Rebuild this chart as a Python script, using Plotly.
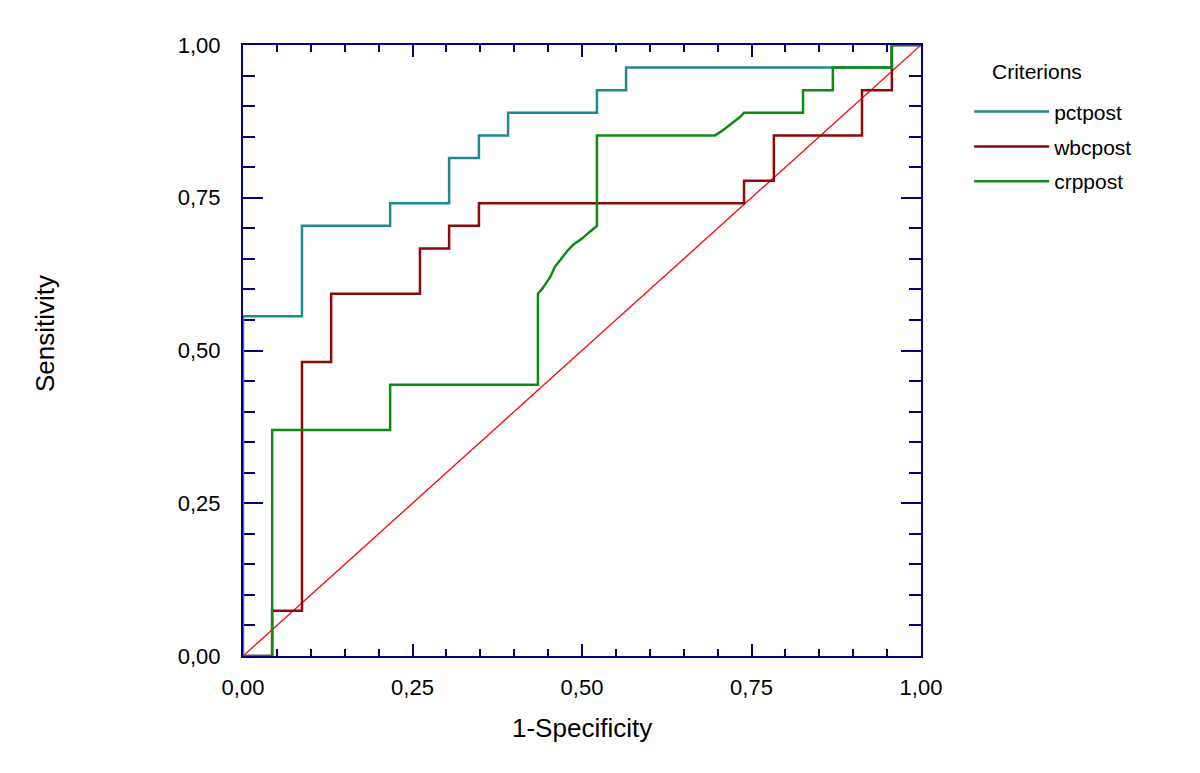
import plotly.graph_objects as go

# ROC data (1-Specificity, Sensitivity)
pct_fpr = [0.0, 0.0, 0.087, 0.217, 0.304, 0.348, 0.391, 0.522, 0.565, 0.957, 1.0]
pct_tpr = [0.0, 0.556, 0.704, 0.741, 0.815, 0.852, 0.889, 0.926, 0.963, 1.0, 1.0]

wbc_fpr = [0.0, 0.043, 0.087, 0.130, 0.261, 0.304, 0.348, 0.739, 0.783, 0.913, 0.957, 1.0]
wbc_tpr = [0.0, 0.074, 0.481, 0.593, 0.667, 0.704, 0.741, 0.778, 0.852, 0.926, 1.0, 1.0]

crp_fpr = [0.0, 0.043, 0.043, 0.217, 0.217, 0.435, 0.435, 0.442, 0.453, 0.460, 0.470,
           0.479, 0.487, 0.501, 0.509, 0.522, 0.522, 0.696, 0.706, 0.723, 0.733,
           0.739, 0.826, 0.826, 0.870, 0.870, 0.957, 0.957, 1.0]
crp_tpr = [0.0, 0.0, 0.370, 0.370, 0.444, 0.444, 0.593, 0.602, 0.620, 0.637, 0.651,
           0.664, 0.673, 0.684, 0.692, 0.704, 0.852, 0.852, 0.859, 0.874, 0.882,
           0.889, 0.889, 0.926, 0.926, 0.963, 0.963, 1.0, 1.0]

diag = [0.0, 1.0]

tick_vals = [0.0, 0.25, 0.5, 0.75, 1.0]

NAVY = "#000080"
FONT = "Liberation Sans"

fig = go.Figure()
fig.add_trace(go.Scatter(x=diag, y=diag, mode="lines", line=dict(color="#ff0000", width=1.3),
                         showlegend=False, hoverinfo="skip"))
fig.add_trace(go.Scatter(x=pct_fpr, y=pct_tpr, mode="lines", name="pctpost",
                         line=dict(color="#1f8a92", width=2.5, shape="hv"), legendgroup="a"))
fig.add_trace(go.Scatter(x=wbc_fpr, y=wbc_tpr, mode="lines", name="wbcpost",
                         line=dict(color="#8c0a0a", width=2.5, shape="hv"), legendgroup="b"))
fig.add_trace(go.Scatter(x=crp_fpr, y=crp_tpr, mode="lines", name="crppost",
                         line=dict(color="#108a10", width=2.5), legendgroup="c"))

axis_common = dict(
    range=[0, 1], tickvals=tick_vals, tickformat=".2f",
    showgrid=False, zeroline=False, showline=True, linecolor=NAVY, linewidth=2,
    mirror="ticks", ticks="inside", tickcolor=NAVY, tickwidth=2,
    tickfont=dict(family=FONT, size=22, color="black"),
    layer="below traces",
)

fig.update_xaxes(**axis_common, ticklen=12, ticklabelstandoff=11,
                 minor=dict(dtick=0.05, ticks="inside", ticklen=7, tickcolor=NAVY, tickwidth=2))
fig.update_yaxes(**axis_common, ticklen=20, ticklabelstandoff=16,
                 minor=dict(dtick=0.05, ticks="inside", ticklen=12, tickcolor=NAVY, tickwidth=2))

fig.update_layout(
    width=1200, height=773,
    margin=dict(l=235, r=287, t=37, b=125),
    plot_bgcolor="white", paper_bgcolor="white",
    separators=",.",
    font=dict(family=FONT, size=21, color="black"),
    showlegend=True,
    legend=dict(
        x=1.071, xanchor="left", y=0.924, yanchor="top",
        font=dict(family=FONT, size=21), itemwidth=75,
        tracegroupgap=4.5, traceorder="grouped", bgcolor="rgba(0,0,0,0)",
    ),
    annotations=[
        dict(text="Criterions", xref="paper", yref="paper", x=1.102, y=0.956,
             xanchor="left", yanchor="middle", showarrow=False,
             font=dict(family=FONT, size=21)),
        dict(text="1-Specificity", xref="paper", yref="paper", x=0.5, y=-0.118,
             xanchor="center", yanchor="middle", showarrow=False,
             font=dict(family=FONT, size=26)),
        dict(text="Sensitivity", xref="paper", yref="paper", x=-0.292, y=0.527,
             xanchor="center", yanchor="middle", showarrow=False, textangle=-90,
             font=dict(family=FONT, size=26)),
    ],
)

fig.write_html("out.html")
